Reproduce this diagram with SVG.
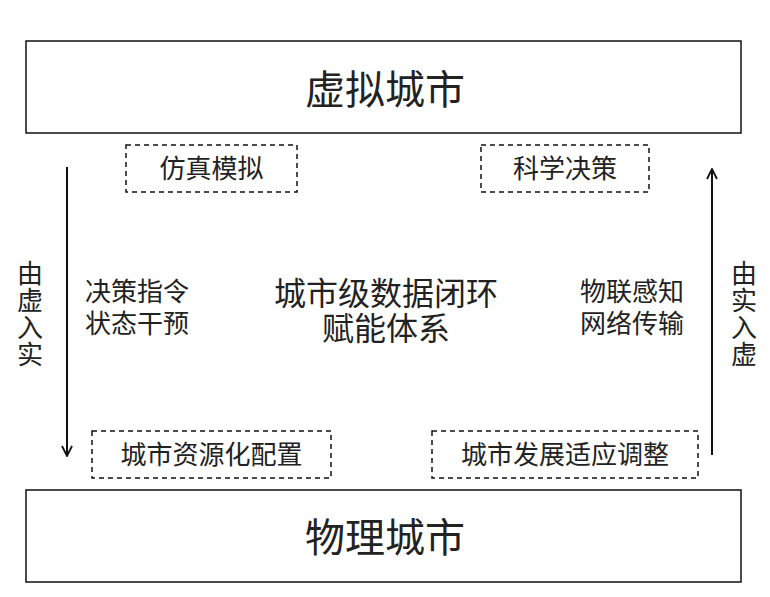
<svg xmlns="http://www.w3.org/2000/svg" width="770" height="597" viewBox="0 0 770 597">
<style>
text{font-family:"Noto Sans CJK SC","Liberation Sans",sans-serif;fill:#222;text-anchor:middle}
.big{font-size:40px}
.mid{font-size:32px}
.sm{font-size:26px}
.vert{font-size:26px;writing-mode:vertical-rl;letter-spacing:1px}
.solid{fill:#fff;stroke:#111;stroke-width:1.5}
.dash{fill:#fff;stroke:#111;stroke-width:1.5;stroke-dasharray:5 4}
.ln{stroke:#111;stroke-width:2;fill:none}
</style>
<defs>
<marker id="ah" viewBox="0 0 12 12" refX="11" refY="6" markerWidth="12" markerHeight="12" markerUnits="userSpaceOnUse" orient="auto">
<path d="M1,1 L11,6 L1,11" fill="none" stroke="#111" stroke-width="1.8"/>
</marker>
</defs>
<rect width="770" height="597" fill="#fff"/>
<g id="virtual">
<rect class="solid" x="26" y="41" width="715" height="92"/>
<text class="big" x="385" y="104">虚拟城市</text>
</g>
<g id="physical">
<rect class="solid" x="26" y="490" width="715" height="92"/>
<text class="big" x="385" y="552">物理城市</text>
</g>
<g id="sim">
<rect class="dash" x="126" y="145" width="171" height="47"/>
<text class="sm" x="211.500" y="178">仿真模拟</text>
</g>
<g id="decision">
<rect class="dash" x="481" y="145" width="168" height="47"/>
<text class="sm" x="565" y="178">科学决策</text>
</g>
<g id="resource">
<rect class="dash" x="92" y="431" width="239" height="47"/>
<text class="sm" x="211.500" y="464">城市资源化配置</text>
</g>
<g id="adjust">
<rect class="dash" x="432" y="431" width="266" height="47"/>
<text class="sm" x="565" y="464">城市发展适应调整</text>
</g>
<g id="connectors">
<line class="ln" x1="67" y1="167" x2="67" y2="456" marker-end="url(#ah)"/>
<line class="ln" x1="712" y1="455" x2="712" y2="169" marker-end="url(#ah)"/>
</g>
<g id="labels">
<text class="vert" x="30" y="314">由虚入实</text>
<text class="vert" x="744" y="314">由实入虚</text>
<text class="sm"><tspan x="137" y="301">决策指令</tspan><tspan x="137" y="333">状态干预</tspan></text>
<text class="sm"><tspan x="632" y="301">物联感知</tspan><tspan x="632" y="333">网络传输</tspan></text>
<text class="mid"><tspan x="386" y="305">城市级数据闭环</tspan><tspan x="386" y="340">赋能体系</tspan></text>
</g>
</svg>
